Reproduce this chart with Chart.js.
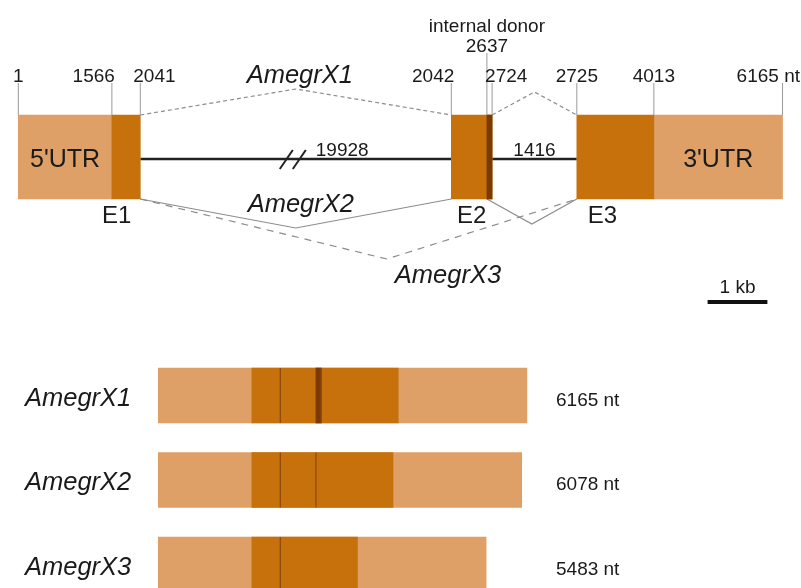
<!DOCTYPE html>
<html lang="en">
<head>
<meta charset="UTF-8">
<title>AmegrX gene structure and transcripts</title>
<script src="https://cdn.jsdelivr.net/npm/chart.js"></script>
<style>
  html, body { margin: 0; padding: 0; background: #fff; overflow: hidden; }
  #wrap { position: relative; width: 801px; height: 588px; }
</style>
</head>
<body>
<div id="wrap"><canvas id="geneChart"></canvas></div>
<script>
// exons of the gene, in mRNA coordinates (nt)
const exonStart = [1, 2042, 2725];
const exonEnd = [2041, 2724, 6165];
const exonNames = ['E1', 'E2', 'E3'];
const cdsStart = 1566;
const cdsEnd = 4013;
const internalDonor = 2637;
const intronLength = [19928, 1416];
const intronDrawn = [5200, 1416];   // intron 1 is drawn broken (//)
const geneTicks = [1, 1566, 2041, 2042, 2637, 2724, 2725, 4013, 6165];
const tickText = ['1', '1566', '2041', '2042', '2637', '2724', '2725', '4013', '6165 nt'];

// splicing of each isoform on the gene: [donor, acceptor]
const isoforms = ['AmegrX1', 'AmegrX2', 'AmegrX3'];
const spliceJunctions = [
  [[2041, 2042], [2724, 2725]],
  [[2041, 2042], [2637, 2725]],
  [[2041, 2725]]
];

// mature transcripts
const txLength = [6165, 6078, 5483];
const txCdsEnd = [4013, 3926, 3331];
const txJunctions = [[2041, 2724], [2041, 2637], [2041]];
const txAltPart = [[2637, 2724], null, null];
const scaleBarNt = 1000;

const C_UTR = '#DEA066', C_CDS = '#C6710C', C_ALT = '#7A3A06';
const FONT = "'Liberation Sans', Arial, sans-serif";
const W = 801, H = 588;
const pxPerNt = 0.0598;
const GENE_H = 84, TX_H = 55;

// position on the drawn gene (introns inserted)
function gx(p) {
  let off = 0;
  for (let i = 1; i < exonStart.length; i++) {
    if (p >= exonStart[i]) off += intronDrawn[i - 1];
  }
  return p + off;
}

function xAxis(firstPx) {
  const min = 1 - firstPx / pxPerNt;
  return { type: 'linear', display: false, offset: false, grid: { offset: false }, min: min, max: min + W / pxPerNt };
}

function yAxis(centerPx, pxPerRow) {
  const min = -centerPx / pxPerRow;
  return { type: 'linear', display: false, offset: false, grid: { offset: false }, reverse: true, min: min, max: min + H / pxPerRow };
}

// gene boxes
const geneUtr = [
  { x: [gx(exonStart[0]), gx(cdsStart)], y: 0 },
  { x: [gx(cdsEnd), gx(exonEnd[exonEnd.length - 1])], y: 0 }
];
const geneCds = [];
exonStart.forEach((s, i) => {
  const a = Math.max(s, cdsStart), b = Math.min(exonEnd[i], cdsEnd);
  if (b > a) geneCds.push({ x: [gx(a), gx(b)], y: 0 });
});
const geneAlt = [{ x: [gx(internalDonor), gx(exonEnd[1])], y: 0 }];

// transcript boxes
const txUtr = txLength.map((L, i) => ({ x: [1, L], y: i }));
const txCds = txCdsEnd.map((e, i) => ({ x: [cdsStart, e], y: i }));
const txAlt = [];
txAltPart.forEach((p, i) => { if (p) txAlt.push({ x: p, y: i }); });

function bars(data, color, order, gene) {
  return {
    data: data,
    backgroundColor: color,
    borderWidth: 0,
    grouped: false,
    order: order,
    barThickness: gene ? GENE_H : TX_H,
    xAxisID: gene ? 'xg' : 'xt',
    yAxisID: gene ? 'yg' : 'yt'
  };
}

function line(ctx, pts, color, width, dash) {
  ctx.save();
  ctx.strokeStyle = color;
  ctx.lineWidth = width;
  ctx.setLineDash(dash || []);
  ctx.beginPath();
  pts.forEach((p, i) => i ? ctx.lineTo(p[0], p[1]) : ctx.moveTo(p[0], p[1]));
  ctx.stroke();
  ctx.restore();
}

function text(ctx, str, x, y, font, align) {
  ctx.save();
  ctx.font = font;
  ctx.fillStyle = '#1a1a1a';
  ctx.textAlign = align || 'center';
  ctx.textBaseline = 'alphabetic';
  ctx.fillText(str, x, y);
  ctx.restore();
}

// connector styles per isoform
const connStyle = [
  { side: -1, dash: [4, 3], depth: [26, 23], frac: [0.5, 0.5], lab: [4, -6] },
  { side: 1, dash: [], depth: [29, 25], frac: [0.5, 0.5], lab: [5, -16] },
  { side: 1, dash: [7, 6], depth: [60], frac: [0.565], lab: [61, 24] }
];

const genePlugin = {
  id: 'genePlugin',
  beforeDatasetsDraw(chart) {
    const ctx = chart.ctx;
    const X = chart.scales.xg, Y = chart.scales.yg;
    const cy = Y.getPixelForValue(0);
    const top = cy - GENE_H / 2, bot = cy + GENE_H / 2;
    const ly = cy + 2;
    // introns
    for (let i = 0; i < intronLength.length; i++) {
      const a = X.getPixelForValue(gx(exonEnd[i])), b = X.getPixelForValue(gx(exonStart[i + 1]));
      line(ctx, [[a, ly], [b, ly]], '#222', 2.5);
    }
    // splice connectors
    spliceJunctions.forEach((js, k) => {
      const st = connStyle[k];
      js.forEach((j, n) => {
        const a = X.getPixelForValue(gx(j[0])), b = X.getPixelForValue(gx(j[1]));
        const base = st.side < 0 ? top : bot;
        const ax = a + (b - a) * st.frac[n], ay = base + st.side * st.depth[n];
        line(ctx, [[a, base], [ax, ay], [b, base]], '#8c8c8c', 1.2, st.dash);
        if (n === 0) {
          text(ctx, isoforms[k], ax + st.lab[0], ay + st.lab[1], 'italic 25.5px ' + FONT);
        }
      });
    });
  },
  afterDatasetsDraw(chart) {
    const ctx = chart.ctx;
    const X = chart.scales.xg, Y = chart.scales.yg;
    const cy = Y.getPixelForValue(0);
    const top = cy - GENE_H / 2, bot = cy + GENE_H / 2;
    const ly = cy + 2;
    const small = '19px ' + FONT;

    // intron 1 break and intron lengths
    const i1a = X.getPixelForValue(gx(exonEnd[0])), i1b = X.getPixelForValue(gx(exonStart[1]));
    const bx = (i1a + i1b) / 2 - 3;
    [-6.5, 6.5].forEach(d => line(ctx, [[bx + d - 6.5, ly + 10], [bx + d + 6.5, ly - 9]], '#222', 2));
    text(ctx, String(intronLength[0]), bx + 23, ly - 3, small, 'left');
    const i2a = X.getPixelForValue(gx(exonEnd[1])), i2b = X.getPixelForValue(gx(exonStart[2]));
    text(ctx, String(intronLength[1]), (i2a + i2b) / 2, ly - 3, small);

    // position ticks
    const tickAlign = ['center', 'right', 'left', 'right', 'center', 'left', 'center', 'center', 'center'];
    geneTicks.forEach((t, i) => {
      const px = X.getPixelForValue(gx(t));
      const donor = t === internalDonor;
      line(ctx, [[px, donor ? top - 62 : top - 32], [px, top]], '#9a9a9a', 1);
      const base = donor ? top - 63 : top - 33;
      ctx.font = small;
      const w = ctx.measureText(tickText[i]).width;
      let tx = px, al = tickAlign[i];
      if (al === 'right') tx = px + 3;
      if (al === 'left') tx = px - 7;
      if (al === 'center' && px + w / 2 > chart.width - 1) { al = 'right'; tx = chart.width - 1; }
      text(ctx, tickText[i], tx, base, small, al);
      if (donor) text(ctx, 'internal donor', px, base - 20, small);
    });

    // UTR labels
    const big = '25px ' + FONT;
    text(ctx, "5'UTR", (X.getPixelForValue(geneUtr[0].x[0]) + X.getPixelForValue(geneUtr[0].x[1])) / 2, cy + 10, big);
    text(ctx, "3'UTR", (X.getPixelForValue(geneUtr[1].x[0]) + X.getPixelForValue(geneUtr[1].x[1])) / 2, cy + 10, big);

    // exon labels
    const ef = '24px ' + FONT;
    const e1 = X.getPixelForValue(gx(exonEnd[0]));
    text(ctx, exonNames[0], e1 - 9, bot + 24, ef, 'right');
    const e2 = (X.getPixelForValue(gx(exonStart[1])) + X.getPixelForValue(gx(exonEnd[1]))) / 2;
    text(ctx, exonNames[1], e2, bot + 24, ef);
    const e3 = X.getPixelForValue(gx(exonStart[2]));
    text(ctx, exonNames[2], e3 + 11, bot + 24, ef, 'left');

    // scale bar
    const sbw = X.getPixelForValue(scaleBarNt) - X.getPixelForValue(0);
    const sbc = 737.5;
    line(ctx, [[sbc - sbw / 2, 302], [sbc + sbw / 2, 302]], '#111', 4);
    text(ctx, '1 kb', sbc, 293, small);

    // transcripts: exon junctions and labels
    const XT = chart.scales.xt, YT = chart.scales.yt;
    txLength.forEach((L, i) => {
      const c = YT.getPixelForValue(i);
      txJunctions[i].forEach(j => {
        const px = XT.getPixelForValue(j);
        line(ctx, [[px, c - TX_H / 2], [px, c + TX_H / 2]], '#8a4a0a', 1.2);
      });
      text(ctx, isoforms[i], 25, c + 10, 'italic 25.5px ' + FONT, 'left');
      text(ctx, L + ' nt', 556, c + 10, small, 'left');
    });
  }
};

new Chart(document.getElementById('geneChart'), {
  type: 'bar',
  data: {
    datasets: [
      bars(geneAlt, C_ALT, 0, true),
      bars(geneCds, C_CDS, 1, true),
      bars(geneUtr, C_UTR, 2, true),
      bars(txAlt, C_ALT, 0, false),
      bars(txCds, C_CDS, 1, false),
      bars(txUtr, C_UTR, 2, false)
    ]
  },
  options: {
    indexAxis: 'y',
    responsive: true,
    maintainAspectRatio: false,
    animation: false,
    layout: { padding: 0, autoPadding: false },
    plugins: { legend: { display: false }, tooltip: { enabled: false } },
    scales: {
      xg: xAxis(18.3),
      xt: xAxis(158.3),
      yg: yAxis(157, 100),
      yt: yAxis(395.5, 84.5)
    }
  },
  plugins: [genePlugin]
});
</script>
</body>
</html>
